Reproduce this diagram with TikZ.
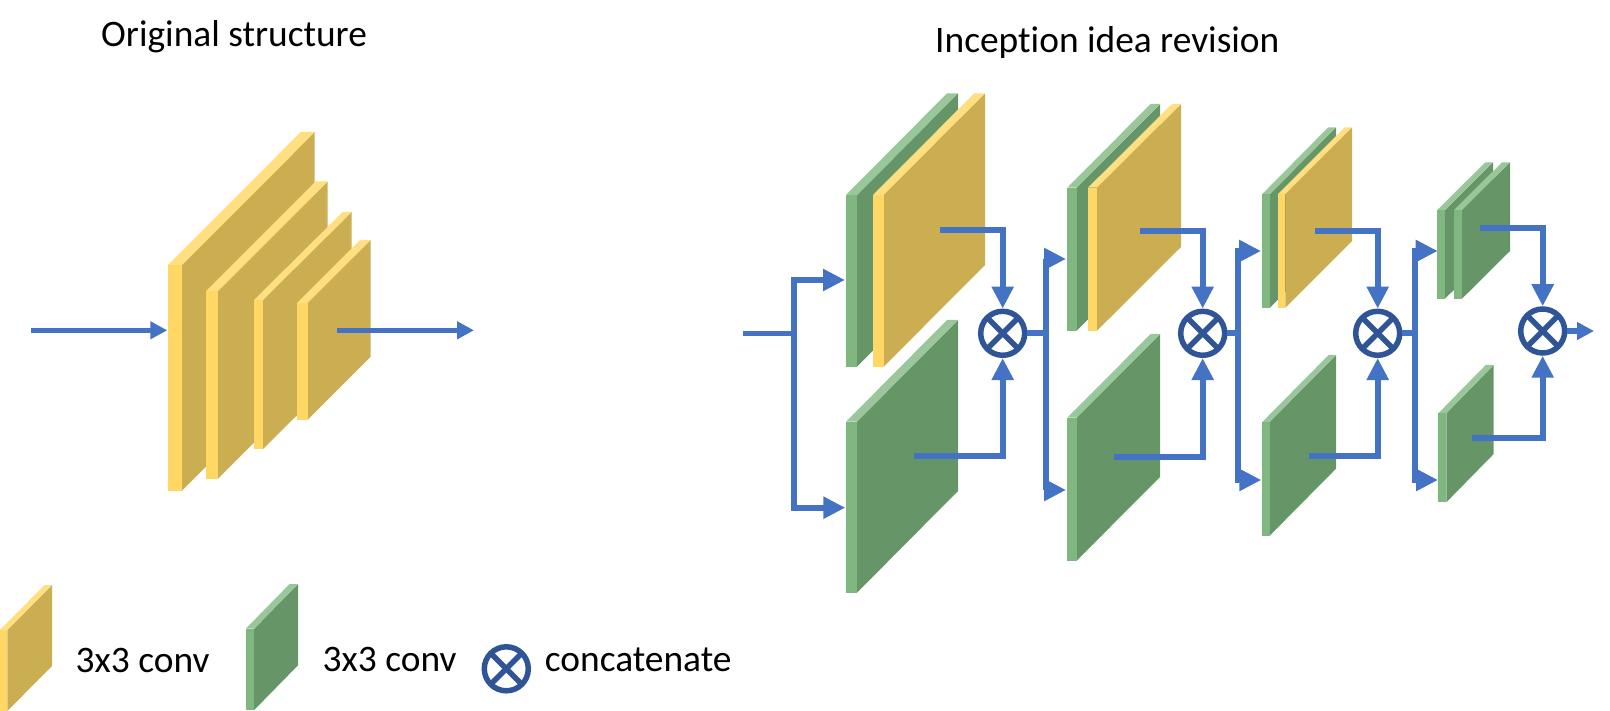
\documentclass[tikz,border=0pt]{standalone}
\usepackage{fontspec}
\setmainfont{Carlito}[Ligatures=NoCommon]
\usetikzlibrary{arrows.meta}

\definecolor{yellowfront}{HTML}{FFD764}
\definecolor{yellowtop}{HTML}{FFDF80}
\definecolor{yellowmain}{HTML}{CCAE52}
\definecolor{greenfront}{HTML}{80B781}
\definecolor{greentop}{HTML}{99C79B}
\definecolor{greenmain}{HTML}{669667}
\definecolor{linkblue}{HTML}{4472C4}
\definecolor{crossblue}{HTML}{2F5597}

\tikzset{
    stem/.style={draw=linkblue,line width=5.8pt},
    flow/.style={stem,-{Triangle[length=22pt,width=21pt]}},
    thin flow/.style={draw=linkblue,line width=5.2pt,-{Triangle[length=17pt,width=17pt]}},
    concat node/.style={circle,draw=crossblue,line width=5.5pt,minimum size=44pt,inner sep=0,
        path picture={
            \draw[crossblue,line width=5.5pt] (path picture bounding box.south west) -- (path picture bounding box.north east);
            \draw[crossblue,line width=5.5pt] (path picture bounding box.north west) -- (path picture bounding box.south east);
        }},
    label node/.style={anchor=base west,inner sep=0,font=\fontsize{37.4}{37.4}\selectfont}
    }

% x, strip width, top, bottom, right edge, tip height, colour
\newcommand{\slab}[7]{
    \fill[#7main] (#1+#2,#3) -- (#5,#6) -- (#5,#6+#4-#3) -- (#1+#2,#4) -- cycle;
    \fill[#7top] (#1,#3) -- (#1+#2,#3) -- (#5,#6) -- (#5-#2,#6) -- cycle;
    \fill[#7front] (#1,#3) rectangle (#1+#2,#4);
}

\begin{document}
\begin{tikzpicture}[x=1pt,y=-1pt]
    \useasboundingbox (0,0) rectangle (1610,711);

    \node[label node] (title1) at (101,47) {Original structure};
    \node[label node] (title2) at (935,52.5) {Inception idea revision};

    % original structure
    \slab{168}{14}{265}{490.7}{314.7}{132}{yellow}
    \slab{206}{12}{291}{478.7}{327.7}{181.3}{yellow}
    \slab{254}{9}{300}{449}{351.7}{212}{yellow}
    \slab{297}{10.7}{303}{419.7}{370.7}{240}{yellow}
    \coordinate (in0) at (31.3,330.3);
    \coordinate (layer0) at (167.3,330.3);
    \coordinate (out0) at (337.3,330.3);
    \coordinate (end0) at (474,330.3);
    \draw[thin flow] (in0) -- (layer0);
    \draw[thin flow] (out0) -- (end0);

    % first block
    \slab{846}{11}{195}{366.7}{958}{93.3}{green}
    \slab{873}{10.7}{195}{366.7}{985}{93.3}{yellow}
    \slab{846}{11}{421.7}{592.7}{958}{320}{green}
    % second block
    \slab{1067.3}{9.4}{187.7}{330.7}{1160}{104}{green}
    \slab{1088}{9}{187.7}{330.7}{1181}{104}{yellow}
    \slab{1067.3}{9.4}{417.7}{560.7}{1160}{334}{green}
    % third block
    \slab{1262.3}{7.7}{194}{307.7}{1336}{127.3}{green}
    \slab{1278}{7.3}{194}{307.7}{1352}{127.3}{yellow}
    \slab{1262.3}{7.4}{422}{535.7}{1336}{355}{green}
    % fourth block
    \slab{1437.3}{7.7}{210}{298.7}{1493}{162.3}{green}
    \slab{1454}{8}{210}{298.7}{1510}{162.3}{green}
    \slab{1438.3}{8}{413.3}{502.3}{1493.7}{365}{green}

    \node[concat node] (c1) at (1002.7,333.3) {};
    \node[concat node] (c2) at (1202.7,333.3) {};
    \node[concat node] (c3) at (1377.7,333.3) {};
    \node[concat node] (c4) at (1542.7,331) {};

    \coordinate (start) at (742.7,333.5);
    \coordinate (j1) at (794,333.5);
    \coordinate (j2) at (1046,333.3);
    \coordinate (j3) at (1238,333.3);
    \coordinate (j4) at (1415,333.3);
    \coordinate (up1) at (845,280);
    \coordinate (down1) at (845.3,507.7);
    \coordinate (up2) at (1066,259);
    \coordinate (down2) at (1066,490);
    \coordinate (up3) at (1261,251);
    \coordinate (down3) at (1261.3,480);
    \coordinate (up4) at (1437.7,251);
    \coordinate (down4) at (1438,480);
    \coordinate (o1a) at (940,230);
    \coordinate (o1b) at (914,455.7);
    \coordinate (o2a) at (1140,231);
    \coordinate (o2b) at (1114,456.7);
    \coordinate (o3a) at (1315,230.7);
    \coordinate (o3b) at (1308.7,455.7);
    \coordinate (o4a) at (1480,227.7);
    \coordinate (o4b) at (1472.3,437.7);
    \coordinate (end) at (1594,331);

    \draw[stem] (start) -- (j1);
    \draw[stem] (c1.east) -- (j2);
    \draw[stem] (c2.east) -- (j3);
    \draw[stem] (c3.east) -- (j4);
    \draw[flow] (j1) |- (up1);
    \draw[flow] (j1) |- (down1);
    \draw[flow] (j2) |- (up2);
    \draw[flow] (j2) |- (down2);
    \draw[flow] (j3) |- (up3);
    \draw[flow] (j3) |- (down3);
    \draw[flow] (j4) |- (up4);
    \draw[flow] (j4) |- (down4);
    \draw[flow] (o1a) -| (c1.north);
    \draw[flow] (o1b) -| (c1.south);
    \draw[flow] (o2a) -| (c2.north);
    \draw[flow] (o2b) -| (c2.south);
    \draw[flow] (o3a) -| (c3.north);
    \draw[flow] (o3b) -| (c3.south);
    \draw[flow] (o4a) -| (c4.north);
    \draw[flow] (o4b) -| (c4.south);
    \draw[thin flow] (c4.east) -- (end);

    % legend
    \slab{0}{7.4}{630}{711}{52}{585}{yellow}
    \slab{245.8}{8.4}{628.7}{710}{298}{584}{green}
    \node[label node] (conv1) at (75.5,672.7) {3x3 conv};
    \node[label node] (conv2) at (322.5,671) {3x3 conv};
    \node[concat node] (c5) at (506.3,668.8) {};
    \node[label node] (concat) at (544.7,671) {concatenate};
\end{tikzpicture}
\end{document}
